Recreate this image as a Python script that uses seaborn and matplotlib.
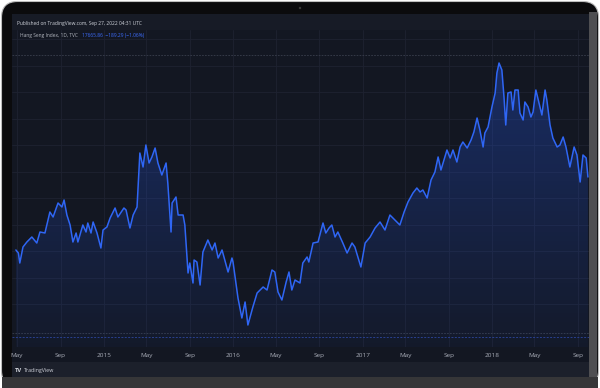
import numpy as np
import pandas as pd
import matplotlib
matplotlib.use("Agg")
import matplotlib.pyplot as plt
import matplotlib.dates as mdates
import seaborn as sns
from matplotlib.patches import FancyBboxPatch, Rectangle, Polygon

# ---------------- data ----------------
dates = [
    "2014-04-28", "2014-05-05", "2014-05-09", "2014-05-18", "2014-05-29", "2014-06-12", "2014-06-26",
    "2014-07-05", "2014-07-19", "2014-08-02", "2014-08-11", "2014-08-25", "2014-09-05", "2014-09-11",
    "2014-09-19", "2014-09-28", "2014-10-06", "2014-10-15", "2014-10-20", "2014-11-03", "2014-11-12",
    "2014-11-17", "2014-11-26", "2014-12-02", "2014-12-13", "2014-12-24", "2014-12-30", "2015-01-10",
    "2015-01-19", "2015-02-02", "2015-02-10", "2015-02-27", "2015-03-05", "2015-03-16", "2015-03-25",
    "2015-04-05", "2015-04-13", "2015-04-22", "2015-04-30", "2015-05-09", "2015-05-17", "2015-05-26",
    "2015-06-03", "2015-06-14", "2015-06-26", "2015-07-01", "2015-07-10", "2015-07-13", "2015-07-24",
    "2015-07-30", "2015-08-13", "2015-08-18", "2015-08-27", "2015-09-01", "2015-09-10", "2015-09-13",
    "2015-09-21", "2015-09-30", "2015-10-08", "2015-10-22", "2015-11-03", "2015-11-11", "2015-11-20",
    "2015-12-01", "2015-12-18", "2015-12-29", "2016-01-01", "2016-01-15", "2016-01-26", "2016-02-04",
    "2016-02-12", "2016-02-26", "2016-03-09", "2016-03-26", "2016-04-06", "2016-04-20", "2016-04-28",
    "2016-05-07", "2016-05-18", "2016-05-30", "2016-06-07", "2016-06-15", "2016-06-24", "2016-07-08",
    "2016-07-16", "2016-07-28", "2016-08-02", "2016-08-14", "2016-08-28", "2016-09-11", "2016-09-19",
    "2016-09-28", "2016-10-06", "2016-10-15", "2016-10-23", "2016-11-06", "2016-11-18", "2016-12-02",
    "2016-12-10", "2016-12-27", "2017-01-08", "2017-01-22", "2017-02-05", "2017-02-19", "2017-03-05",
    "2017-03-19", "2017-04-02", "2017-04-16", "2017-04-28", "2017-05-09", "2017-05-23", "2017-06-03",
    "2017-06-12", "2017-06-20", "2017-07-02", "2017-07-13", "2017-07-24", "2017-08-02", "2017-08-10",
    "2017-08-16", "2017-08-27", "2017-09-05", "2017-09-13", "2017-09-24", "2017-10-03", "2017-10-11",
    "2017-10-23", "2017-11-03", "2017-11-11", "2017-11-20", "2017-11-28", "2017-12-07", "2017-12-12",
    "2017-12-21", "2018-01-01", "2018-01-10", "2018-01-15", "2018-01-21", "2018-01-29", "2018-02-04",
    "2018-02-09", "2018-02-15", "2018-02-24", "2018-03-01", "2018-03-07", "2018-03-16", "2018-03-21",
    "2018-03-30", "2018-04-04", "2018-04-13", "2018-04-21", "2018-04-27", "2018-05-05", "2018-05-14",
    "2018-05-22", "2018-05-31", "2018-06-05", "2018-06-14", "2018-06-22", "2018-07-04", "2018-07-12",
    "2018-07-21", "2018-07-29", "2018-08-09", "2018-08-21", "2018-08-29", "2018-09-07", "2018-09-15",
    "2018-09-24", "2018-09-29",
]
values = [
    22564, 22394, 21828, 22734, 23017, 23300, 22960,
    23583, 23526, 24715, 24432, 25224, 24998, 25394,
    24545, 23979, 23017, 23526, 23017, 23979, 23583,
    24092, 23526, 24149, 23526, 22677, 23696, 23866,
    24375, 24941, 24432, 24941, 24828, 23809, 24545,
    24998, 28054, 27262, 28507, 27488, 27828, 28337,
    27488, 26809, 27488, 26323, 23583, 25224, 25564,
    24545, 24545, 23979, 21262, 21828, 20696, 21998,
    21885, 20583, 22451, 23130, 22564, 22960, 22111,
    22564, 21319, 22111, 21885, 19847, 18715, 19621,
    18319, 19338, 20130, 20470, 20300, 21432, 21319,
    20187, 19734, 20753, 21319, 20300, 20866, 20696,
    21828, 22168, 21885, 22960, 23017, 24092, 23526,
    23809, 23979, 23300, 23583, 22960, 22394, 22960,
    22734, 21602, 22960, 23300, 23809, 24149, 23696,
    24545, 24262, 23979, 24715, 25281, 25790, 26073,
    25847, 25960, 25507, 26526, 26979, 27828, 27092,
    27488, 28224, 27771, 28224, 27545, 28394, 28677,
    28337, 28790, 29243, 30035, 29356, 28394, 29186,
    29526, 30658, 31450, 32582, 33148, 32752, 31224,
    29639, 31450, 31507, 30488, 31620, 31620, 30318,
    29922, 30941, 30658, 30092, 30375, 31620, 30884,
    30205, 31620, 31054, 29639, 28903, 28394, 28507,
    28960, 28394, 27262, 28394, 27941, 26413, 27941,
    27771, 26696,
]
tick_dates = ["2014-05-01", "2014-09-01", "2015-01-01", "2015-05-01", "2015-09-01",
              "2016-01-01", "2016-05-01", "2016-09-01", "2017-01-01", "2017-05-01",
              "2017-09-01", "2018-01-01", "2018-05-01", "2018-09-01"]
tick_labels = ["May", "Sep", "2015", "May", "Sep", "2016", "May", "Sep",
               "2017", "May", "Sep", "2018", "May", "Sep"]
grid_levels = [19500, 21000, 22500, 24000, 25500, 27000, 28500, 30000, 31500, 33000, 34500]
last_price = 17665.86
prev_close = 17855.15
period_high = 33600

df = pd.DataFrame({"date": pd.to_datetime(dates), "value": values})

# ---------------- style ----------------
sns.set_theme(style="dark")
plt.rcParams['font.family'] = ['Open Sans', 'DejaVu Sans']

W, H = 600, 388
fig = plt.figure(figsize=(6, 3.88), dpi=100, facecolor="white")

def px_box(x0, y0, x1, y1, color, rounding=0.0, ec="none", lw=0, z=0):
    # pixel coords (origin top-left) -> inches transform
    if rounding > 0:
        p = FancyBboxPatch((x0 / 100, (H - y1) / 100), (x1 - x0) / 100, (y1 - y0) / 100,
                           boxstyle=f"round,pad=0,rounding_size={rounding}",
                           transform=fig.dpi_scale_trans, fc=color, ec=ec, lw=lw, zorder=z)
    else:
        p = Rectangle((x0 / 100, (H - y1) / 100), (x1 - x0) / 100, (y1 - y0) / 100,
                      transform=fig.dpi_scale_trans, fc=color, ec=ec, lw=lw, zorder=z)
    fig.add_artist(p)

# laptop body and screen
px_box(1.5, 1.5, 598.5, 386.5, "#0b0b0d", rounding=0.16, ec="#bdbdbd", lw=0.8, z=0)
px_box(2, 377, 598, 388, "#363638", z=1)
px_box(589, 12, 597, 377, "#4f4f52", z=1)
px_box(12, 14, 589, 377, "#131722", z=2)
px_box(12, 14, 589, 30, "#171b26", z=2)
px_box(12, 362, 589, 377, "#1c202b", z=2)
fig.add_artist(plt.Circle((300 / 100, (H - 8) / 100), 0.012, transform=fig.dpi_scale_trans,
                          fc="#3a3a3a", ec="none", zorder=3))

# ---------------- chart ----------------
ax_top, ax_bot = 30, 347
ax = fig.add_axes([12 / W, 1 - ax_bot / H, (589 - 12) / W, (ax_bot - ax_top) / H], zorder=5)
ax.set_facecolor("none")

y_bottom, y_top = 17074, 35016
x_left, x_right = pd.Timestamp("2014-04-17"), pd.Timestamp("2018-10-02")

sns.lineplot(data=df, x="date", y="value", ax=ax, color="#2f66f5", lw=1.1, zorder=4)

# gradient fill under the line
xn = mdates.date2num(df["date"])
verts = np.column_stack([np.r_[xn[0], xn, xn[-1]], np.r_[y_bottom, df["value"].values, y_bottom]])
poly = Polygon(verts, closed=True, fc="none", ec="none")
ax.add_patch(poly)
grad = np.zeros((256, 1, 4))
grad[:, 0, 0] = 0.16
grad[:, 0, 1] = 0.38
grad[:, 0, 2] = 1.0
grad[:, 0, 3] = np.linspace(0.30, 0.04, 256)
im = ax.imshow(grad, aspect="auto", origin="upper",
               extent=[xn[0], xn[-1], y_bottom, max(values)], zorder=3)
im.set_clip_path(poly)

# reference lines
ax.axhline(period_high, color="#3a3f4d", lw=0.6, ls=(0, (2, 1.5)), zorder=2)
ax.axhline(prev_close, color="#3a3f4d", lw=0.6, ls=(0, (2, 1.5)), zorder=2)
ax.axhline(last_price, color="#2a3f8a", lw=0.7, ls=(0, (2, 1.5)), zorder=2)

ax.set_xlim(x_left, x_right)
ax.set_ylim(y_bottom, y_top)
ax.set_xticks(pd.to_datetime(tick_dates))
ax.set_xticklabels(tick_labels, fontsize=4.6, color="#a9adb8")
ax.set_yticks(grid_levels)
ax.set_yticklabels([])
ax.tick_params(axis="x", length=0, pad=4)
ax.tick_params(axis="y", length=0)
ax.grid(True, color="#1e2231", lw=0.6)
ax.set_xlabel("")
ax.set_ylabel("")
for s in ax.spines.values():
    s.set_visible(False)

# ---------------- header / footer texts ----------------
def ftext(x, y, s, **kw):
    return fig.text(x / W, 1 - y / H, s, va="center", ha="left", zorder=10, **kw)

ftext(17, 23.5, "Published on TradingView.com, Sep 27, 2022 04:31 UTC", fontsize=3.5, color="#d1d4dc")
t1 = ftext(20, 35, "Hang Seng Index, 1D, TVC", fontsize=3.5, color="#b2b5be")
fig.canvas.draw()
bb = t1.get_window_extent()
ftext(bb.x1 + 4, 35, "17665.86  \u2212189.29 (\u22121.06%)", fontsize=3.5, color="#3d6dff")
ftext(15, 370.5, "TV", fontsize=4.2, color="#d1d4dc", fontweight="bold")
ftext(24, 370.5, "TradingView", fontsize=3.8, color="#d1d4dc")

fig.savefig("out.png", dpi=100, facecolor="white")
